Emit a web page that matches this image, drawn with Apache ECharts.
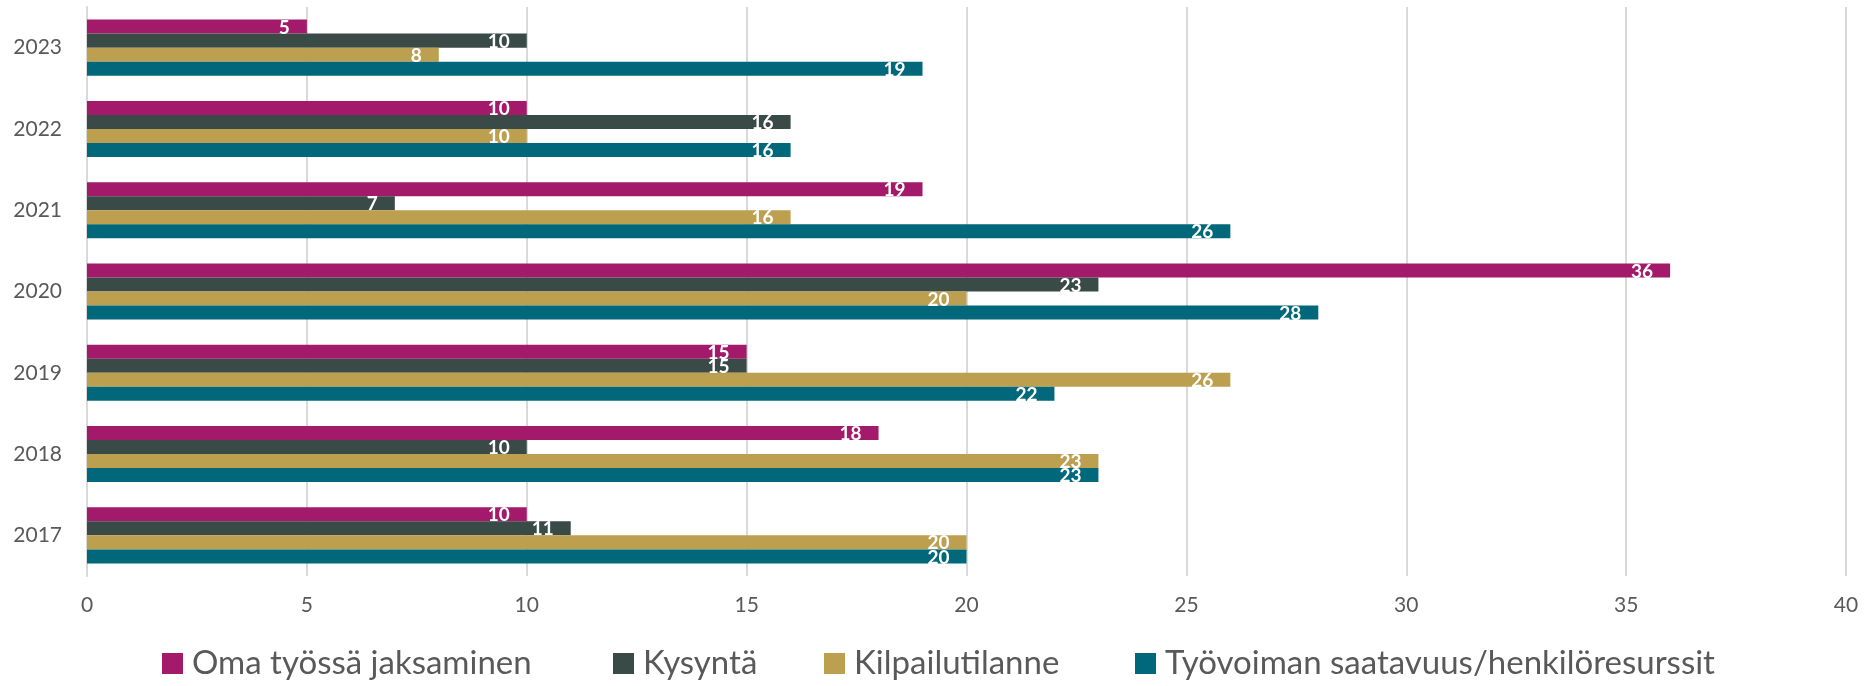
<!DOCTYPE html>
<html>
<head>
<meta charset="utf-8">
<script src="https://cdn.jsdelivr.net/npm/echarts@6/dist/echarts.min.js"></script>
<style>
  html, body { margin: 0; padding: 0; background: #fff; }
  #chart { width: 1865px; height: 686px; }
</style>
</head>
<body>
<div id="chart"></div>
<script>
const years = ['2023', '2022', '2021', '2020', '2019', '2018', '2017']
const seriesNames = ['Oma työssä jaksaminen', 'Kysyntä', 'Kilpailutilanne', 'Työvoiman saatavuus/henkilöresurssit']
const omaJaksaminen = [5, 10, 19, 36, 15, 18, 10]
const kysynta = [10, 16, 7, 23, 15, 10, 11]
const kilpailutilanne = [8, 10, 16, 20, 26, 23, 20]
const tyovoima = [19, 16, 26, 28, 22, 23, 20]
const xTicks = [0, 5, 10, 15, 20, 25, 30, 35, 40]

const colors = ['#A31A6B', '#3A4A46', '#BD9F50', '#00687A']
const values = [omaJaksaminen, kysynta, kilpailutilanne, tyovoima]
// legend entries are placed one by one, like the original
const legendLeft = [157, 608, 819, 1130]
const font = 'Lato, "Open Sans", sans-serif'

let chart = echarts.init(document.getElementById('chart'))

let series = seriesNames.map((name, i) => ({
    name: name,
    type: 'bar',
    data: values[i],
    barCategoryGap: '31%',
    barGap: '0%',
    itemStyle: {color: colors[i]},
    label: {
        show: true,
        position: 'insideRight',
        distance: 17,
        offset: [0, 1],
        color: '#fff',
        fontWeight: 'bold',
        fontSize: 19,
        fontFamily: font
    }
}))

let legends = seriesNames.map((name, i) => ({
    data: [name],
    left: legendLeft[i],
    top: 642,
    itemWidth: 21,
    itemHeight: 21,
    icon: 'rect',
    textStyle: {fontSize: 33, color: '#595959', fontFamily: font, padding: [0, 0, 0, 4]}
}))

chart.setOption({
    animation: false,
    textStyle: {fontFamily: font},
    grid: {left: 87, right: 19, top: 7, bottom: 110},
    legend: legends,
    xAxis: {
        type: 'value',
        min: xTicks[0],
        max: xTicks[xTicks.length - 1],
        interval: 5,
        axisLine: {show: false},
        axisTick: {show: false},
        axisLabel: {fontSize: 21, color: '#595959', margin: 19},
        splitLine: {lineStyle: {color: '#D9D9D9', width: 2}}
    },
    yAxis: {
        type: 'category',
        inverse: true,
        data: years,
        axisLine: {show: true, lineStyle: {color: '#D9D9D9', width: 2}},
        axisTick: {show: false},
        axisLabel: {fontSize: 21, color: '#595959', margin: 25}
    },
    series: series
})
</script>
</body>
</html>
